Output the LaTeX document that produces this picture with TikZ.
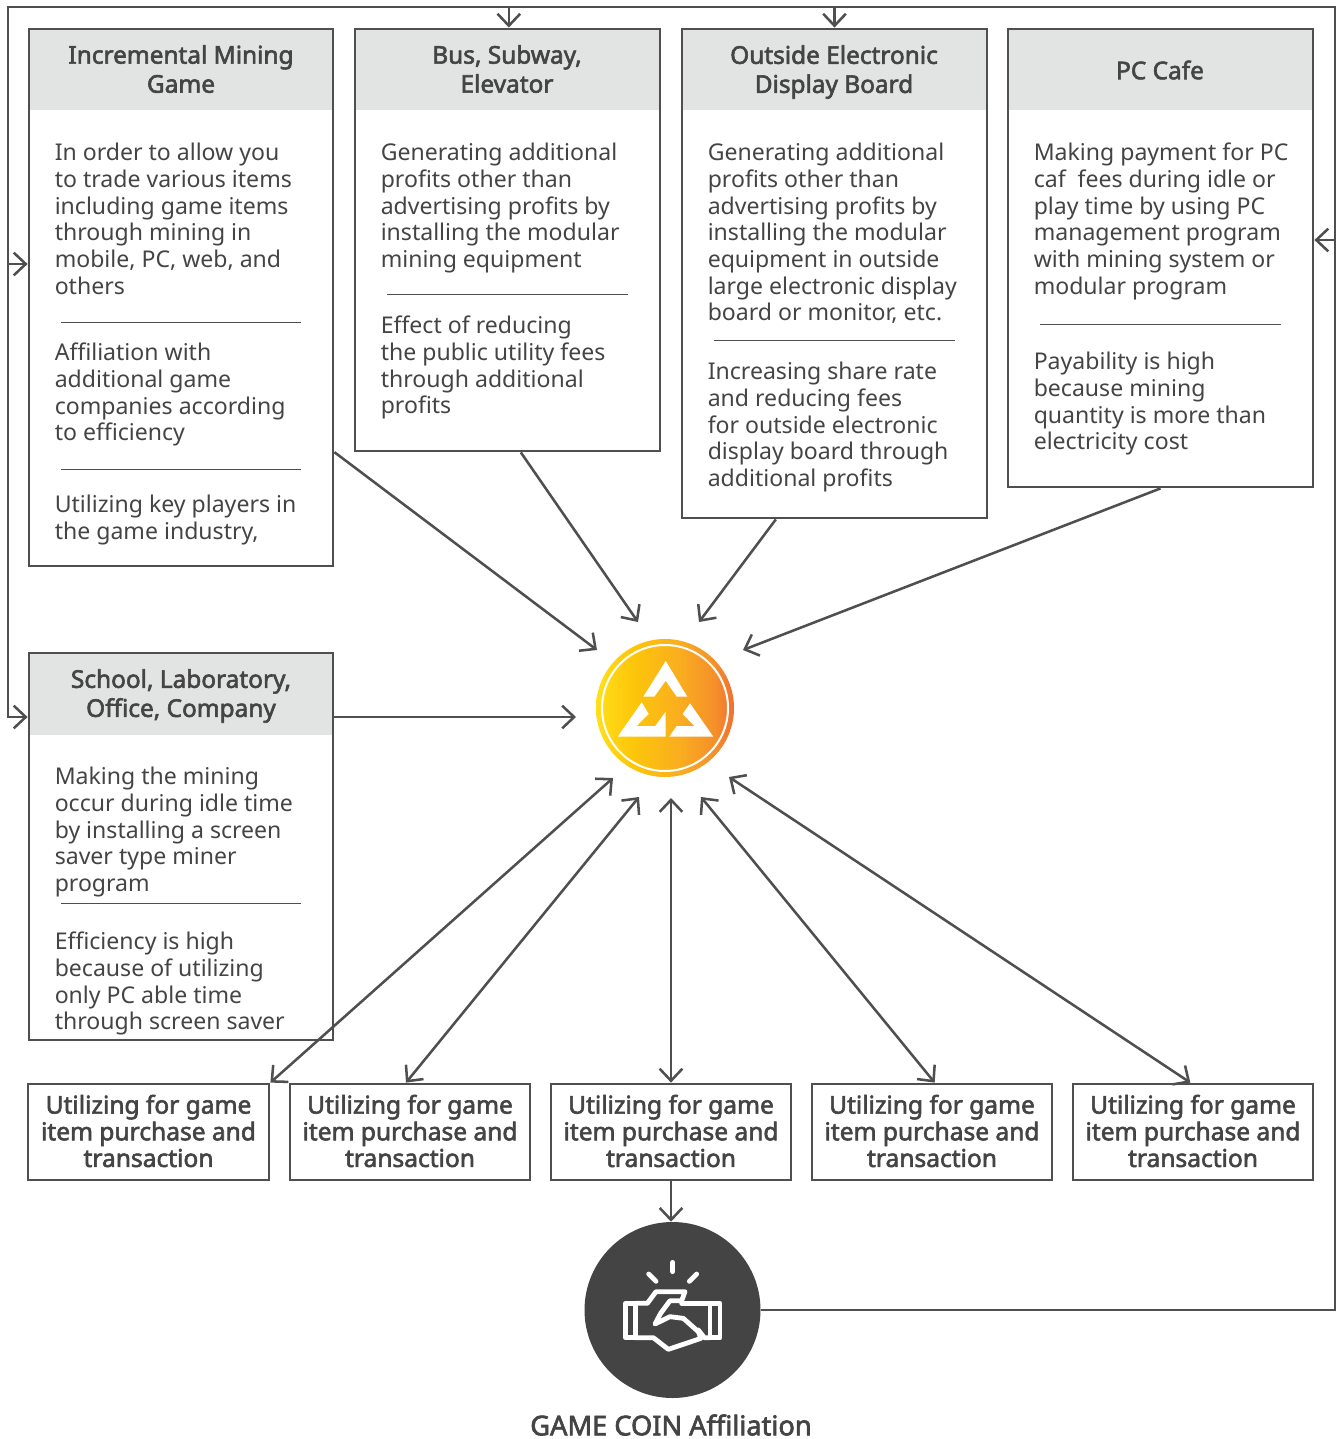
\documentclass[tikz,border=0pt]{standalone}
\usepackage{fontspec}
\setmainfont{Noto Sans}[AutoFakeBold=2.4]
\usetikzlibrary{arrows.meta,fit}
\definecolor{ink}{HTML}{444444}
\definecolor{wire}{HTML}{4F4F4F}
\definecolor{headgray}{HTML}{E2E4E3}
\definecolor{coina}{HTML}{FFE01B}
\definecolor{coinb}{HTML}{FDC60A}
\definecolor{coinc}{HTML}{F9AE1F}
\definecolor{coind}{HTML}{F58F2A}
\definecolor{coine}{HTML}{EF7030}
\pgfdeclarehorizontalshading{hubfade}{100bp}{
	color(0bp)=(coina);
	color(25bp)=(coina);
	color(38bp)=(coinb);
	color(55bp)=(coinc);
	color(68bp)=(coind);
	color(75bp)=(coine);
	color(100bp)=(coine)}
\begin{document}
\begin{tikzpicture}[
	x=0.75pt,y=-0.75pt,
	font=\fontsize{17.3}{20}\selectfont,
	text=ink,
	boxframe/.style={draw=wire,line width=2.1pt,inner sep=0pt},
	boxhead/.style={fill=headgray,inner sep=0pt},
	headtext/.style={inner sep=0pt,align=center,font=\fontsize{18.3}{21.8}\selectfont\bfseries},
	bodytext/.style={anchor=north west,inner sep=0pt,align=left,execute at begin node=\strut},
	rule/.style={draw=wire,line width=0.6pt},
	useframe/.style={draw=wire,line width=2.1pt,inner sep=0pt},
	usetext/.style={inner sep=0pt,align=center,font=\fontsize{18.4}{20}\selectfont\bfseries},
	arr/.style={draw=wire,line width=1.9pt,-{Straight Barb[length=9pt,width=17pt]}},
	biarr/.style={draw=wire,line width=1.9pt,{Straight Barb[length=9pt,width=17pt]}-{Straight Barb[length=9pt,width=17pt]}},
	shakeline/.style={draw=white,line width=3.6pt,line join=round,line cap=round},
	]
\useasboundingbox (0,0) rectangle (1343,1439);
% top row
\node [boxhead,fit={(29,29)(333,110)}] (minehead) {};
\node [boxframe,fit={(29,29)(333,566)}] (minebox) {};
\node [headtext] (minetitle) at (181,69) {Incremental Mining\\Game};
\node [bodytext] (minetxta) at (54.5,143) {In order to allow you\\to trade various items\\including game items\\through mining in\\mobile, PC, web, and\\others};
\node [bodytext] (minetxtb) at (54.5,343) {Affiliation with\\additional game\\companies according\\to efficiency};
\node [bodytext] (minetxtc) at (54.5,495) {Utilizing key players in\\the game industry,};
\draw [rule] (61,322) -- (301,322);
\draw [rule] (61,469) -- (301,469);
\node [boxhead,fit={(355,29)(660,110)}] (bushead) {};
\node [boxframe,fit={(355,29)(660,451)}] (busbox) {};
\node [headtext] (bustitle) at (507,69) {Bus, Subway,\\Elevator};
\node [bodytext] (bustxta) at (380.5,143) {Generating additional\\profits other than\\advertising profits by\\installing the modular\\mining equipment};
\node [bodytext] (bustxtb) at (380.5,316) {Effect of reducing\\the public utility fees\\through additional\\profits};
\draw [rule] (387,294) -- (628,294);
\node [boxhead,fit={(682,29)(987,110)}] (boardhead) {};
\node [boxframe,fit={(682,29)(987,518)}] (boardbox) {};
\node [headtext] (boardtitle) at (834,72) {Outside Electronic\\Display Board};
\node [bodytext] (boardtxta) at (707.5,143) {Generating additional\\profits other than\\advertising profits by\\installing the modular\\equipment in outside\\large electronic display\\board or monitor, etc.};
\node [bodytext] (boardtxtb) at (707.5,362) {Increasing share rate\\and reducing fees\\for outside electronic\\display board through\\additional profits};
\draw [rule] (714,340) -- (955,340);
\node [boxhead,fit={(1008,29)(1313,110)}] (cafehead) {};
\node [boxframe,fit={(1008,29)(1313,487)}] (cafebox) {};
\node [headtext] (cafetitle) at (1160,70) {PC Cafe};
\node [bodytext] (cafetxta) at (1033.5,143) {Making payment for PC\\caf\ \ fees during idle or\\play time by using PC\\management program\\with mining system or\\modular program};
\node [bodytext] (cafetxtb) at (1033.5,352) {Payability is high\\because mining\\quantity is more than\\electricity cost};
\draw [rule] (1040,324) -- (1281,324);
% school box
\node [boxhead,fit={(29,653)(333,735)}] (schoolhead) {};
\node [boxframe,fit={(29,653)(333,1040)}] (schoolbox) {};
\node [headtext] (schooltitle) at (181,696) {School, Laboratory,\\Office, Company};
\node [bodytext] (schooltxta) at (54.5,767) {Making the mining\\occur during idle time\\by installing a screen\\saver type miner\\program};
\node [bodytext] (schooltxtb) at (54.5,932) {Efficiency is high\\because of utilizing\\only PC able time\\through screen saver};
\draw [rule] (61,903) -- (301,903);
% usage row
\node [useframe,fit={(28,1084)(269,1180)}] (useone) {};
\node [usetext] (useonetxt) at (148.5,1131) {Utilizing for game\\item purchase and\\transaction};
\node [useframe,fit={(290,1084)(530,1180)}] (usetwo) {};
\node [usetext] (usetwotxt) at (410,1131) {Utilizing for game\\item purchase and\\transaction};
\node [useframe,fit={(551,1084)(791,1180)}] (usethree) {};
\node [usetext] (usethreetxt) at (671,1131) {Utilizing for game\\item purchase and\\transaction};
\node [useframe,fit={(812,1084)(1052,1180)}] (usefour) {};
\node [usetext] (usefourtxt) at (932,1131) {Utilizing for game\\item purchase and\\transaction};
\node [useframe,fit={(1073,1084)(1313,1180)}] (usefive) {};
\node [usetext] (usefivetxt) at (1193,1131) {Utilizing for game\\item purchase and\\transaction};
% coin in the middle
\node [circle,shading=hubfade,minimum size=103.5pt,inner sep=0pt] (hub) at (665,708) {};
\node [circle,draw=white,line width=1.5pt,minimum size=94.5pt,inner sep=0pt] (hubring) at (665,708) {};
\fill [white] (665.7,661) -- (687.3,696.7) -- (676.7,696.7) -- (665.7,680.7) -- (654.3,696.7) -- (643.3,696.7) -- cycle;
\fill [white] (641.7,702.3) -- (648.7,714) -- (636.7,726) -- (655.3,726) -- (665.7,711.7) -- (665.7,736.7) -- (617.7,736.7) -- cycle;
\fill [white] (690,703.3) -- (713.3,736.7) -- (669.3,736.7) -- (676.7,726) -- (694.3,726) -- (682.7,714) -- cycle;
% handshake circle
\node [circle,fill=ink,minimum size=132pt,inner sep=0pt] (deal) at (672.5,1310) {};
\begin{scope}[shift={(570,1210)},scale=1/3]
\draw [shakeline] (308,157) -- (308,185);
\draw [shakeline] (236,192) -- (258,214);
\draw [shakeline] (380,192) -- (358,214);
\draw [shakeline] (166,280) rectangle (197,383);
\draw [shakeline] (420,280) rectangle (450,383);
\draw [shakeline] (197,280) -- (232,280) -- (258,245) -- (345,245) -- (335,272) -- (300,272) -- (272,310) -- (255,342) -- (300,320) -- (340,325) -- (385,365) -- (393,385) -- (295,418) -- (250,383) -- (197,383);
\draw [shakeline] (335,280) -- (420,280);
\draw [shakeline] (385,360) -- (403,383) -- (420,383);
\end{scope}
\node [inner sep=0pt,font=\fontsize{20.4}{24}\selectfont\bfseries] (dealname) at (671,1425) {GAME COIN Affiliation};
% ends of the arrows round the coin
\coordinate (hubnw) at (597,650);
\coordinate (hubnna) at (638,622);
\coordinate (hubnnb) at (699,622);
\coordinate (hubne) at (743,650);
\coordinate (hubw) at (576,717);
\coordinate (hubsa) at (613,778);
\coordinate (hubsb) at (639,797);
\coordinate (hubsc) at (671,798);
\coordinate (hubsd) at (701,797);
\coordinate (hubse) at (729,777);
\coordinate (loopse) at (1335,1310);
\coordinate (loopne) at (1335,7);
\coordinate (loopnw) at (8,7);
\coordinate (loopsw) at (8,717);
\coordinate (loopcafe) at (1335,240);
\coordinate (loopmine) at (8,264);
% arrows
\draw [arr] ([yshift=-116pt]minebox.east) -- (hubnw);
\draw [arr] ([xshift=10pt]busbox.south) -- (hubnna);
\draw [arr] ([xshift=-44pt]boardbox.south) -- (hubnnb);
\draw [arr] (cafebox.south) -- (hubne);
\draw [arr] (schoolbox.east |- hubw) -- (hubw);
\draw [biarr] (useone.north east) -- (hubsa);
\draw [biarr] ([xshift=-3pt]usetwo.north) -- (hubsb);
\draw [biarr] (usethree.north) -- (hubsc);
\draw [biarr] ([xshift=2pt]usefour.north) -- (hubsd);
\draw [biarr] ([xshift=-2pt]usefive.north) -- (hubse);
\draw [arr] (usethree.south) -- (usethree.south |- deal.north);
% way back to the boxes
\draw [arr] (deal.east) -- (loopse) -- (loopne) -- (loopnw) -- (loopsw) -- (schoolbox.west |- loopsw);
\draw [arr] (loopcafe) -- (cafebox.east |- loopcafe);
\draw [arr] (loopmine) -- (minebox.west |- loopmine);
\draw [arr] ([xshift=1pt]busbox.north |- loopne) -- ([xshift=1pt]busbox.north);
\draw [arr] (boardbox.north |- loopne) -- (boardbox.north);
\end{tikzpicture}
\end{document}
